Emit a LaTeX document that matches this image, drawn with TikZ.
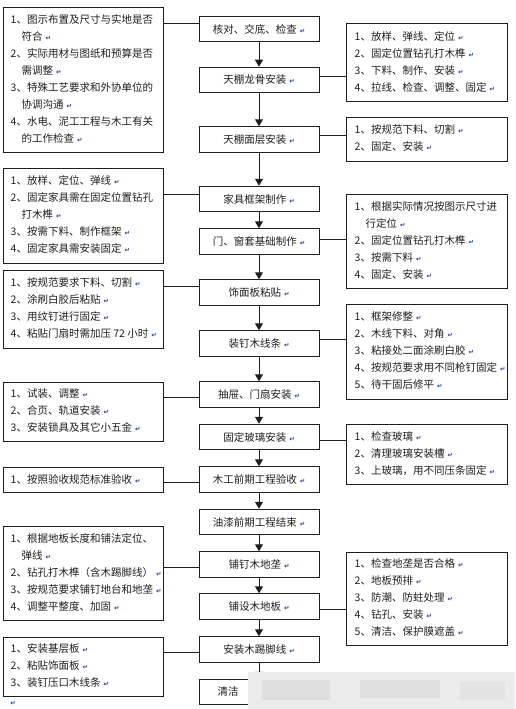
\documentclass[tikz,border=0pt]{standalone}
\usepackage{fontspec}
\setmainfont{Noto Sans CJK SC}
\newfontfamily\dejavu{DejaVu Sans}
\usetikzlibrary{arrows.meta}
\definecolor{markblue}{RGB}{30,50,170}
\definecolor{ink}{RGB}{30,30,30}
\newcommand{\pmk}{\hspace{3pt}\textcolor{markblue}{\dejavu\bfseries\fontsize{6.5}{6.5}\selectfont ↵}}
\newcommand{\myhang}{\rule{11pt}{0pt}}
\newcommand{\mylines}[1]{\begin{tabular}{@{}l@{}}#1\end{tabular}}
\begin{document}
\begin{tikzpicture}[x=1pt,y=-1pt,
  box/.style={draw=ink, line width=1pt, inner sep=0pt},
  cbox/.style={box, minimum width=120pt, minimum height=25.5pt, font=\fontsize{10.5}{17}\selectfont, text=ink},
  lbox/.style={box, minimum width=160pt},
  rbox/.style={box, minimum width=161pt},
  txt/.style={anchor=west, inner sep=0pt, font=\fontsize{10.5}{17}\selectfont, text=ink},
  link/.style={line width=1pt, draw=ink},
  flow/.style={line width=1pt, draw=ink, -{Triangle[width=8pt,length=7pt]}},
]
\useasboundingbox (0,0) rectangle (515,709);

% central column
\node[cbox] (c1)  at (259,29)    {核对、交底、检查\pmk};
\node[cbox] (c2)  at (259,80)    {天棚龙骨安装\pmk};
\node[cbox] (c3)  at (259,139.5) {天棚面层安装\pmk};
\node[cbox] (c4)  at (259,199)   {家具框架制作\pmk};
\node[cbox] (c5)  at (259,241.5) {门、窗套基础制作\pmk};
\node[cbox] (c6)  at (259,292.5) {饰面板粘贴\pmk};
\node[cbox] (c7)  at (259,343.5) {装钉木线条\pmk};
\node[cbox] (c8)  at (259,394.5) {抽屉、门扇安装\pmk};
\node[cbox] (c9)  at (259,437)   {固定玻璃安装\pmk};
\node[cbox] (c10) at (259,479.5) {木工前期工程验收\pmk};
\node[cbox] (c11) at (259,522)   {油漆前期工程结束\pmk};
\node[cbox] (c12) at (259,564.5) {铺钉木地垄\pmk};
\node[cbox] (c13) at (259,606.5) {铺设木地板\pmk};
\node[cbox] (c14) at (259,649.5) {安装木踢脚线\pmk};
\node[box, minimum width=120pt, minimum height=25.5pt] (c15) at (259,692) {};
\node[txt] (tc15) at ([xshift=19pt]c15.west) {清洁};

\foreach \a/\b in {c1/c2,c2/c3,c3/c4,c4/c5,c5/c6,c6/c7,c7/c8,c8/c9,c9/c10,c10/c11,c11/c12,c12/c13,c13/c14,c14/c15}
  \draw[flow] (\a.south) -- (\b.north);

% left boxes
\node[lbox, minimum height=144pt] (l1) at (83,80) {};
\node[txt] (tl1) at ([xshift=8pt]l1.west) {\mylines{1、图示布置及尺寸与实地是否\\ \myhang 符合\pmk\\ 2、实际用材与图纸和预算是否\\ \myhang 需调整\pmk\\ 3、特殊工艺要求和外协单位的\\ \myhang 协调沟通\pmk\\ 4、水电、泥工工程与木工有关\\ \myhang 的工作检查\pmk}};

\node[lbox, minimum height=95pt] (l2) at (83,215.5) {};
\node[txt] (tl2) at ([xshift=8pt]l2.west) {\mylines{1、放样、定位、弹线\pmk\\ 2、固定家具需在固定位置钻孔\\ \myhang 打木榫\pmk\\ 3、按需下料、制作框架\pmk\\ 4、固定家具需安装固定\pmk}};

\node[lbox, minimum height=78pt] (l3) at (83,309) {};
\node[txt] (tl3) at ([xshift=8pt]l3.west) {\mylines{1、按规范要求下料、切割\pmk\\ 2、涂刷白胶后粘贴\pmk\\ 3、用纹钉进行固定\pmk\\ 4、粘贴门扇时需加压 72 小时\pmk}};

\node[lbox, minimum height=59pt] (l4) at (83,411.5) {};
\node[txt] (tl4) at ([xshift=8pt]l4.west) {\mylines{1、试装、调整\pmk\\ 2、合页、轨道安装\pmk\\ 3、安装锁具及其它小五金\pmk}};

\node[lbox, minimum height=25pt] (l5) at (83,479.5) {};
\node[txt] (tl5) at ([xshift=8pt]l5.west) {1、按照验收规范标准验收\pmk};

\node[lbox, minimum height=94pt] (l6) at (83,573) {};
\node[txt] (tl6) at ([xshift=8pt]l6.west) {\mylines{1、根据地板长度和铺法定位、\\ \myhang 弹线\pmk\\ 2、钻孔打木榫（含木踢脚线）\pmk\\ 3、按规范要求铺钉地台和地垄\pmk\\ 4、调整平整度、加固\pmk}};

\node[lbox, minimum height=59pt] (l7) at (83,666.5) {};
\node[txt] (tl7) at ([xshift=8pt]l7.west) {\mylines{1、安装基层板\pmk\\ 2、粘贴饰面板\pmk\\ 3、装钉压口木线条\pmk}};
\node[inner sep=0pt] (stray) at (13,703) {\textcolor{markblue}{\dejavu\bfseries\fontsize{6.5}{6.5}\selectfont ↵}};

% right boxes
\node[rbox, minimum height=77pt] (r1) at (426.5,62.5) {};
\node[txt] (tr1) at ([xshift=9pt]r1.west) {\mylines{1、放样、弹线、定位\pmk\\ 2、固定位置钻孔打木榫\pmk\\ 3、下料、制作、安装\pmk\\ 4、拉线、检查、调整、固定\pmk}};

\node[rbox, minimum height=44pt] (r2) at (426.5,139) {};
\node[txt] (tr2) at ([xshift=9pt]r2.west) {\mylines{1、按规范下料、切割\pmk\\ 2、固定、安装\pmk}};

\node[rbox, minimum height=94pt] (r3) at (426.5,241) {};
\node[txt] (tr3) at ([xshift=9pt]r3.west) {\mylines{1、根据实际情况按图示尺寸进\\ \myhang 行定位\pmk\\ 2、固定位置钻孔打木榫\pmk\\ 3、按需下料\pmk\\ 4、固定、安装\pmk}};

\node[rbox, minimum height=95pt] (r4) at (426.5,351.5) {};
\node[txt] (tr4) at ([xshift=9pt]r4.west) {\mylines{1、框架修整\pmk\\ 2、木线下料、对角\pmk\\ 3、粘接处二面涂刷白胶\pmk\\ 4、按规范要求用不同枪钉固定\pmk\\ 5、待干固后修平\pmk}};

\node[rbox, minimum height=60pt] (r5) at (426.5,454) {};
\node[txt] (tr5) at ([xshift=9pt]r5.west) {\mylines{1、检查玻璃\pmk\\ 2、清理玻璃安装槽\pmk\\ 3、上玻璃，用不同压条固定\pmk}};

\node[rbox, minimum height=93pt] (r6) at (426.5,598.5) {};
\node[txt] (tr6) at ([xshift=9pt]r6.west) {\mylines{1、检查地垄是否合格\pmk\\ 2、地板预排\pmk\\ 3、防潮、防蛀处理\pmk\\ 4、钻孔、安装\pmk\\ 5、清洁、保护膜遮盖\pmk}};

% links to the left
\draw[link] ([yshift=5pt]c1.west) -- ([yshift=5pt]c1.west -| l1.east);
\draw[link] ([yshift=5pt]c4.west) -- ([yshift=5pt]c4.west -| l2.east);
\draw[link] ([yshift=6pt]c6.west) -- ([yshift=6pt]c6.west -| l3.east);
\draw[link] ([yshift=-3pt]c8.west) -- ([yshift=-3pt]c8.west -| l4.east);
\draw[link] ([yshift=-3pt]c10.west) -- ([yshift=-3pt]c10.west -| l5.east);
\draw[link] ([yshift=-3pt]c12.west) -- ([yshift=-3pt]c12.west -| l6.east);
\draw[link] ([yshift=-3pt]c14.west) -- ([yshift=-3pt]c14.west -| l7.east);
% links to the right
\draw[link] ([yshift=4pt]c2.east) -- ([yshift=4pt]c2.east -| r1.west);
\draw[link] ([yshift=4pt]c3.east) -- ([yshift=4pt]c3.east -| r2.west);
\draw[link] ([yshift=2pt]c5.east) -- ([yshift=2pt]c5.east -| r3.west);
\draw[link] ([yshift=4pt]c7.east) -- ([yshift=4pt]c7.east -| r4.west);
\draw[link] ([yshift=-3pt]c9.east) -- ([yshift=-3pt]c9.east -| r5.west);
\draw[link] ([yshift=-3pt]c13.east) -- ([yshift=-3pt]c13.east -| r6.west);

% watermark band over the bottom
\fill[gray!16] (248,672) rectangle (515,709);
\fill[gray!26] (262,680) rectangle (330,700);
\fill[gray!24] (360,680) rectangle (440,698);
\fill[gray!22] (460,682) rectangle (505,700);
\end{tikzpicture}
\end{document}
